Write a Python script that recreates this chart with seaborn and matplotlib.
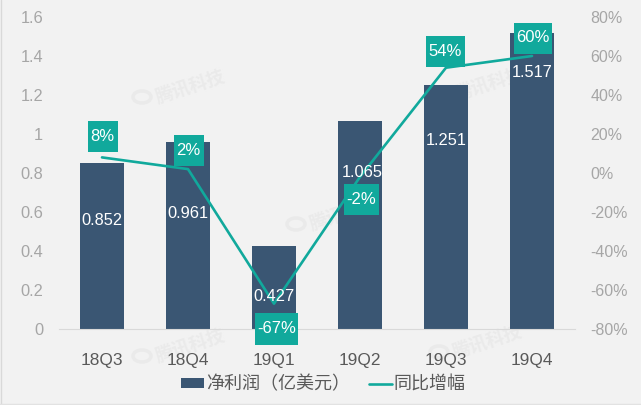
import matplotlib
matplotlib.use("Agg")
import matplotlib.pyplot as plt
from matplotlib.lines import Line2D
from matplotlib.patches import Patch, Ellipse, Rectangle
from matplotlib.offsetbox import AnnotationBbox, DrawingArea
import pandas as pd
import seaborn as sns

quarters = ["18Q3", "18Q4", "19Q1", "19Q2", "19Q3", "19Q4"]
net_profit = [0.852, 0.961, 0.427, 1.065, 1.251, 1.517]
profit_labels = ["0.852", "0.961", "0.427", "1.065", "1.251", "1.517"]
yoy_growth = [8, 2, -67, -2, 54, 60]
yoy_labels = ["8%", "2%", "-67%", "-2%", "54%", "60%"]
left_ticks = [0, 0.2, 0.4, 0.6, 0.8, 1, 1.2, 1.4, 1.6]
left_tick_labels = ["0", "0.2", "0.4", "0.6", "0.8", "1", "1.2", "1.4", "1.6"]
right_ticks = [-80, -60, -40, -20, 0, 20, 40, 60, 80]
right_tick_labels = ["-80%", "-60%", "-40%", "-20%", "0%", "20%", "40%", "60%", "80%"]
series_names = ["净利润（亿美元）", "同比增幅"]
watermark = "腾讯科技"

NAVY = "#3A5673"
TEAL = "#11A99C"
BG = "#F2F2F2"
WM = "#EAEAEA"
W, H = 641, 405

sns.set_theme(style="white")
plt.rcParams["font.family"] = ["Liberation Sans", "Noto Sans CJK SC"]
plt.rcParams["axes.unicode_minus"] = False

df = pd.DataFrame({"quarter": quarters, "profit": net_profit, "yoy": yoy_growth})

fig = plt.figure(figsize=(W / 100, H / 100), dpi=100, facecolor=BG)
ax = fig.add_axes([59 / W, (H - 329) / H, (575 - 59) / W, (329 - 17) / H])
ax.patch.set_visible(False)

sns.barplot(data=df, x="quarter", y="profit", color=NAVY, saturation=1, width=0.515, ax=ax, zorder=2,
            edgecolor="none")
ax.set_xlim(-0.5, 5.5)
ax.set_ylim(0, 1.6)
ax.set_xlabel("")
ax.set_ylabel("")
ax.set_yticks(left_ticks, left_tick_labels)
ax.tick_params(axis="y", length=0, pad=11.5, labelsize=11.8, labelcolor="#A6A6A6")
ax.tick_params(axis="x", length=0, pad=17.5, labelsize=12.4, labelcolor="#595959")
sns.despine(ax=ax, left=True, right=True, top=True)
ax.spines["bottom"].set_color("#D9D9D9")
ax.spines["bottom"].set_linewidth(0.8)

ax2 = ax.twinx()
ax2.patch.set_visible(False)
sns.lineplot(data=df, x="quarter", y="yoy", color=TEAL, linewidth=1.9, ax=ax2, zorder=3)
ax2.set_xlim(-0.5, 5.5)
ax2.set_ylim(-80, 80)
ax2.set_xlabel("")
ax2.set_ylabel("")
ax2.set_yticks(right_ticks, right_tick_labels)
ax2.tick_params(axis="y", length=0, pad=11, labelsize=11.5, labelcolor="#A6A6A6")
for side in ["left", "right", "top", "bottom"]:
    ax2.spines[side].set_visible(False)

# layout only: label offsets and box sizes in display pixels
px = 72 / 100
profit_offsets_px = [(0, -58), (0, -72), (0, -51), (2, -51), (0, -55), (0, -39)]
yoy_offsets_px = [(0.5, 21), (0.5, 18.5), (2.5, -25), (1, -23), (-1, 16), (1, 18)]
yoy_box_px = [(30, 31), (30, 31), (43, 32), (35, 31), (39, 31), (38, 31)]

for i, (v, lab, off) in enumerate(zip(net_profit, profit_labels, profit_offsets_px)):
    ax2.annotate(lab, xy=(i, v * 100 - 80), xytext=(off[0] * px, off[1] * px),
                 textcoords="offset points", ha="center", va="center",
                 color="white", fontsize=11.8, zorder=4)

for i, (v, lab, off, box) in enumerate(zip(yoy_growth, yoy_labels, yoy_offsets_px, yoy_box_px)):
    w, h = box[0] * px, box[1] * px
    da = DrawingArea(w, h, 0, 0)
    da.add_artist(Rectangle((0, 0), w, h, facecolor=TEAL, edgecolor="none"))
    ab = AnnotationBbox(da, (i, v), xybox=(off[0] * px, off[1] * px), boxcoords="offset points",
                        frameon=False, pad=0, box_alignment=(0.5, 0.5), zorder=5,
                        annotation_clip=False)
    ax2.add_artist(ab)
    ax2.annotate(lab, xy=(i, v), xytext=(off[0] * px, off[1] * px),
                 textcoords="offset points", ha="center", va="center",
                 color="white", fontsize=12, zorder=6, annotation_clip=False)

# watermarks behind the bars
for x, y in [(191, 88), (345, 215), (490, 85), (191, 347), (488, 343)]:
    fig.text(x / W, 1 - y / H, watermark, rotation=18, ha="center", va="center",
             fontsize=13, fontweight="bold", color=WM, zorder=-1)
    fig.add_artist(Ellipse(((x - 49) / W, 1 - (y + 9) / H), 18 / W, 12 / H, angle=0,
                           facecolor="none", edgecolor=WM, linewidth=2.5, zorder=-1))

handles = [Patch(facecolor=NAVY, edgecolor="none"), Line2D([0], [0], color=TEAL, linewidth=1.9)]
fig.legend(handles, series_names, loc="center", bbox_to_anchor=(323.5 / W, 1 - 385 / H), ncol=2,
           frameon=False, fontsize=13, labelcolor="#595959", handlelength=1.25, handleheight=0.5,
           handletextpad=0.12, columnspacing=1.05, borderpad=0, borderaxespad=0)

# faint page edges
fig.add_artist(Line2D([0.5 / W, 0.5 / W], [0, 1], color="#D9D9D9", linewidth=1))
fig.add_artist(Line2D([0, 1], [1 - 403.5 / H, 1 - 403.5 / H], color="#E2E2E2", linewidth=1))

fig.savefig("out.png", dpi=100, facecolor=BG)
